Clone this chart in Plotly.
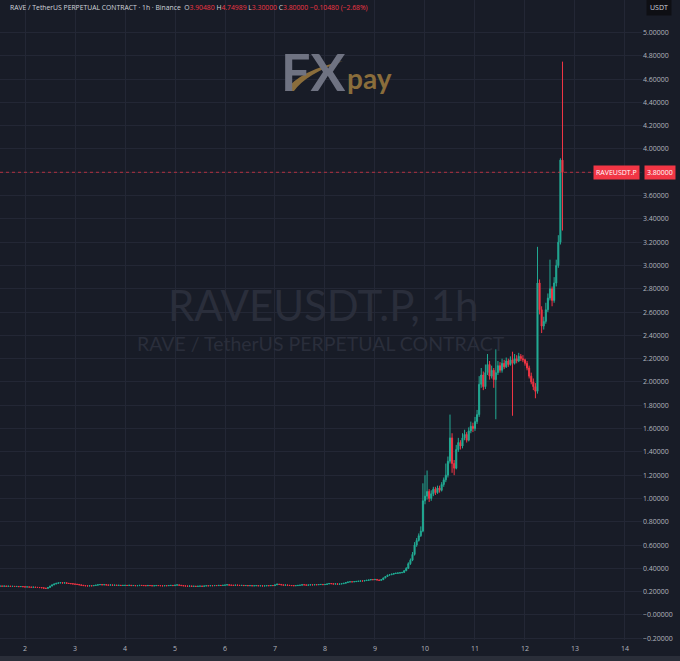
import pandas as pd
import plotly.graph_objects as go

# hourly candles, first one at day 1 12:00
start = "2025-12-01 12:00"
first_open = 0.247

close = [
    0.248, 0.247, 0.248, 0.246, 0.247, 0.245, 0.246, 0.244, 0.245, 0.243, 0.244, 0.242,
    0.240, 0.241, 0.239, 0.238, 0.239, 0.237, 0.236, 0.235, 0.233, 0.230, 0.228, 0.236, 0.248, 0.258, 0.266, 0.272, 0.275, 0.277, 0.274, 0.276, 0.272, 0.270, 0.268, 0.266,
    0.264, 0.262, 0.258, 0.255, 0.252, 0.250, 0.249, 0.251, 0.250, 0.253, 0.256, 0.259, 0.261, 0.258, 0.260, 0.257, 0.256, 0.258, 0.255, 0.256, 0.254, 0.255, 0.253, 0.254,
    0.254, 0.253, 0.255, 0.252, 0.253, 0.251, 0.252, 0.254, 0.253, 0.252, 0.251, 0.253, 0.252, 0.250, 0.251, 0.253, 0.252, 0.251, 0.250, 0.252, 0.251, 0.253, 0.254, 0.252,
    0.256, 0.258, 0.255, 0.252, 0.250, 0.248, 0.247, 0.249, 0.246, 0.247, 0.245, 0.247, 0.248, 0.246, 0.249, 0.251, 0.250, 0.252, 0.251, 0.253, 0.252, 0.254, 0.253, 0.255,
    0.257, 0.259, 0.256, 0.255, 0.254, 0.256, 0.255, 0.253, 0.254, 0.252, 0.253, 0.251, 0.252, 0.250, 0.251, 0.252, 0.250, 0.251, 0.249, 0.250, 0.252, 0.251, 0.253, 0.252,
    0.258, 0.264, 0.262, 0.258, 0.256, 0.257, 0.255, 0.253, 0.252, 0.251, 0.252, 0.254, 0.256, 0.259, 0.258, 0.256, 0.257, 0.259, 0.258, 0.260, 0.259, 0.261, 0.262, 0.260,
    0.262, 0.266, 0.270, 0.268, 0.265, 0.267, 0.264, 0.266, 0.268, 0.272, 0.278, 0.283, 0.285, 0.284, 0.286, 0.288, 0.290, 0.292, 0.291, 0.295, 0.298, 0.300, 0.304, 0.302,
    0.305, 0.300, 0.297, 0.303, 0.318, 0.330, 0.342, 0.345, 0.350, 0.356, 0.358, 0.360, 0.362, 0.365, 0.380, 0.400, 0.440, 0.470, 0.520, 0.600, 0.640, 0.680, 0.720, 0.980,
    1.020, 1.060, 1.000, 1.040, 1.080, 1.050, 1.090, 1.070, 1.120, 1.160, 1.200, 1.320, 1.520, 1.300, 1.260, 1.420, 1.480, 1.450, 1.520, 1.550, 1.500, 1.580, 1.620, 1.600,
    1.660, 1.720, 1.980, 2.060, 1.960, 2.080, 2.150, 2.050, 2.100, 2.020, 2.080, 2.140, 2.100, 2.160, 2.130, 2.180, 2.150, 2.190, 2.160, 2.200, 2.180, 2.220, 2.200, 2.190,
    2.160, 2.120, 2.050, 2.000, 1.960, 1.920, 2.850, 2.620, 2.480, 2.520, 2.620, 2.720, 2.800, 2.700, 2.850, 3.000, 3.200, 3.9048, 3.800,
]

high = [
    0.250, 0.249, 0.249, 0.249, 0.248, 0.248, 0.247, 0.247, 0.246, 0.246, 0.245, 0.245,
    0.243, 0.242, 0.242, 0.240, 0.240, 0.240, 0.238, 0.237, 0.236, 0.234, 0.231, 0.238, 0.250, 0.260, 0.268, 0.274, 0.278, 0.280, 0.278, 0.278, 0.277, 0.273, 0.271, 0.269,
    0.267, 0.266, 0.263, 0.259, 0.256, 0.253, 0.251, 0.252, 0.252, 0.254, 0.257, 0.260, 0.263, 0.262, 0.261, 0.261, 0.258, 0.259, 0.259, 0.257, 0.257, 0.256, 0.256, 0.255,
    0.256, 0.255, 0.256, 0.256, 0.254, 0.254, 0.253, 0.255, 0.255, 0.254, 0.253, 0.254, 0.254, 0.253, 0.252, 0.254, 0.254, 0.253, 0.252, 0.253, 0.253, 0.254, 0.255, 0.255,
    0.257, 0.261, 0.259, 0.256, 0.253, 0.251, 0.249, 0.250, 0.250, 0.248, 0.248, 0.248, 0.249, 0.249, 0.250, 0.252, 0.252, 0.253, 0.253, 0.254, 0.254, 0.255, 0.255, 0.256,
    0.258, 0.262, 0.260, 0.257, 0.256, 0.257, 0.257, 0.256, 0.255, 0.255, 0.254, 0.254, 0.253, 0.253, 0.252, 0.253, 0.253, 0.252, 0.252, 0.251, 0.253, 0.253, 0.254, 0.254,
    0.259, 0.268, 0.265, 0.263, 0.259, 0.258, 0.258, 0.256, 0.254, 0.253, 0.253, 0.255, 0.257, 0.261, 0.260, 0.259, 0.258, 0.260, 0.260, 0.261, 0.261, 0.262, 0.264, 0.263,
    0.263, 0.268, 0.273, 0.271, 0.269, 0.268, 0.268, 0.267, 0.269, 0.274, 0.280, 0.285, 0.287, 0.286, 0.288, 0.290, 0.292, 0.294, 0.293, 0.297, 0.300, 0.302, 0.307, 0.306,
    0.308, 0.307, 0.302, 0.305, 0.320, 0.334, 0.345, 0.350, 0.354, 0.360, 0.362, 0.364, 0.366, 0.370, 0.386, 0.410, 0.452, 0.485, 0.540, 0.625, 0.660, 0.700, 0.760, 1.130,
    1.200, 1.240, 1.080, 1.070, 1.100, 1.100, 1.110, 1.110, 1.140, 1.180, 1.300, 1.360, 1.720, 1.560, 1.330, 1.460, 1.520, 1.500, 1.560, 1.590, 1.570, 1.610, 1.660, 1.650,
    1.700, 1.760, 2.050, 2.120, 2.090, 2.150, 2.240, 2.180, 2.140, 2.120, 2.280, 2.180, 2.170, 2.200, 2.190, 2.210, 2.200, 2.220, 2.260, 2.240, 2.230, 2.250, 2.240, 2.230,
    2.200, 2.180, 2.140, 2.080, 2.030, 1.990, 3.160, 2.880, 2.650, 2.560, 2.680, 2.760, 3.050, 2.820, 2.900, 3.050, 3.260, 3.920, 4.74989,
]

low = [
    0.246, 0.246, 0.246, 0.245, 0.245, 0.244, 0.244, 0.243, 0.243, 0.242, 0.242, 0.241,
    0.239, 0.239, 0.238, 0.237, 0.237, 0.236, 0.235, 0.234, 0.232, 0.229, 0.224, 0.226, 0.235, 0.246, 0.256, 0.264, 0.270, 0.273, 0.272, 0.273, 0.271, 0.268, 0.266, 0.264,
    0.263, 0.261, 0.257, 0.254, 0.251, 0.249, 0.248, 0.248, 0.249, 0.249, 0.252, 0.255, 0.258, 0.257, 0.257, 0.256, 0.255, 0.255, 0.254, 0.254, 0.253, 0.253, 0.252, 0.252,
    0.253, 0.252, 0.252, 0.251, 0.251, 0.250, 0.250, 0.251, 0.252, 0.251, 0.250, 0.250, 0.251, 0.249, 0.249, 0.250, 0.251, 0.250, 0.249, 0.249, 0.250, 0.250, 0.252, 0.251,
    0.251, 0.255, 0.254, 0.251, 0.249, 0.247, 0.246, 0.246, 0.245, 0.245, 0.244, 0.244, 0.246, 0.245, 0.245, 0.248, 0.249, 0.249, 0.250, 0.250, 0.251, 0.251, 0.252, 0.252,
    0.254, 0.256, 0.255, 0.254, 0.253, 0.253, 0.254, 0.252, 0.252, 0.251, 0.251, 0.250, 0.250, 0.249, 0.249, 0.250, 0.249, 0.249, 0.248, 0.248, 0.249, 0.250, 0.250, 0.251,
    0.251, 0.257, 0.261, 0.257, 0.255, 0.255, 0.254, 0.252, 0.251, 0.250, 0.250, 0.251, 0.253, 0.255, 0.257, 0.255, 0.255, 0.256, 0.257, 0.257, 0.258, 0.258, 0.260, 0.259,
    0.259, 0.261, 0.265, 0.267, 0.264, 0.264, 0.263, 0.263, 0.265, 0.267, 0.271, 0.277, 0.282, 0.282, 0.283, 0.285, 0.287, 0.289, 0.290, 0.290, 0.294, 0.297, 0.299, 0.301,
    0.300, 0.298, 0.294, 0.296, 0.301, 0.315, 0.328, 0.339, 0.343, 0.348, 0.353, 0.355, 0.357, 0.359, 0.362, 0.376, 0.395, 0.430, 0.462, 0.510, 0.585, 0.630, 0.670, 0.710,
    0.950, 0.990, 0.970, 0.980, 1.020, 1.030, 1.040, 1.050, 1.060, 1.100, 1.140, 1.180, 1.300, 1.220, 1.200, 1.250, 1.400, 1.420, 1.430, 1.500, 1.480, 1.490, 1.560, 1.570,
    1.580, 1.640, 1.700, 1.950, 1.930, 1.940, 2.060, 2.020, 2.030, 1.950, 1.680, 2.060, 2.080, 2.080, 2.110, 2.120, 2.130, 2.140, 1.710, 2.150, 2.160, 2.170, 2.180, 2.170,
    2.140, 2.100, 2.030, 1.980, 1.930, 1.860, 1.900, 2.580, 2.420, 2.450, 2.500, 2.600, 2.700, 2.650, 2.680, 2.820, 2.980, 3.180, 3.300,
]

# 3.8 is covered by the last-price box, so its tick label stays blank
price_ticks = [-0.2, 0.0, 0.2, 0.4, 0.6, 0.8, 1.0, 1.2, 1.4, 1.6, 1.8, 2.0, 2.2, 2.4, 2.6,
               2.8, 3.0, 3.2, 3.4, 3.6, 3.8, 4.0, 4.2, 4.4, 4.6, 4.8, 5.0]
price_labels = ["−0.20000", "−0.00000", "0.20000", "0.40000", "0.60000", "0.80000",
                "1.00000", "1.20000", "1.40000", "1.60000", "1.80000", "2.00000",
                "2.20000", "2.40000", "2.60000", "2.80000", "3.00000", "3.20000",
                "3.40000", "3.60000", "", "4.00000", "4.20000", "4.40000",
                "4.60000", "4.80000", "5.00000"]
day_ticks = ["2025-12-%02d" % d for d in range(2, 15)]
day_labels = [str(d) for d in range(2, 15)]

BG = "#181c27"
GRID = "#232735"
UP = "#22ab94"
DOWN = "#f23645"
TXT = "#b2b5be"

W, H = 680, 661
PW, PH = 642, 640  # plot area in px


def px(x, y):
    # pixel -> paper coords
    return x / PW, 1 - y / PH


def note(x, y, text, **kw):
    ax, ay = px(x, y)
    kw.setdefault("xanchor", "center")
    kw.setdefault("yanchor", "middle")
    fig.add_annotation(x=ax, y=ay, xref="paper", yref="paper", text=text,
                       showarrow=False, **kw)


opens = [first_open] + close[:-1]
times = pd.date_range(start, periods=len(close), freq="h")

fig = go.Figure(
    go.Candlestick(
        x=times, open=opens, high=high, low=low, close=close,
        increasing=dict(line=dict(color=UP, width=1), fillcolor=UP),
        decreasing=dict(line=dict(color=DOWN, width=1), fillcolor=DOWN),
        hoverinfo="skip",
    )
)

# watermark
note(323, 305, "RAVEUSDT.P, 1h", font=dict(family="Lato", size=42, color="#2a2e3b"))
note(321, 343, "RAVE / TetherUS PERPETUAL CONTRACT",
     font=dict(family="Lato", size=19.5, color="#2a2e3b"))

# FXpay logo
pts = [(285, 91), (300, 70), (343, 61), (306, 74), (294, 91)]
path = "M %f,%f Q %f,%f %f,%f Q %f,%f %f,%f Z" % (
    *px(*pts[0]), *px(*pts[1]), *px(*pts[2]), *px(*pts[3]), *px(*pts[4]))
note(313, 71, "<b>FX</b>", font=dict(family="Lato", size=52, color="#6f7382"))
fig.add_shape(type="path", path=path, xref="paper", yref="paper",
              fillcolor="#8a6d3b", line=dict(width=0))
note(370, 78, "<b>pay</b>", font=dict(family="Lato", size=28, color="#8a6d3b"))

# last price line and labels
last_o, last_h, last_l, last_c = opens[-1], high[-1], low[-1], close[-1]
fig.add_shape(type="line", xref="paper", x0=0, x1=1, yref="y", y0=last_c, y1=last_c,
              line=dict(color="rgba(242,54,69,0.7)", width=1, dash="dot"))
fig.add_annotation(x=640 / PW, y=last_c, xref="paper", yref="y", xanchor="right",
                   yanchor="middle", text="RAVEUSDT.P", showarrow=False,
                   bgcolor=DOWN, borderpad=2, font=dict(size=7, color="white"))
fig.add_annotation(x=644 / PW, y=last_c, xref="paper", yref="y", xanchor="left",
                   yanchor="middle", text="%.5f" % last_c, showarrow=False,
                   bgcolor=DOWN, borderpad=2, font=dict(size=7, color="white"))

# header
chg = last_c - last_o
pct = chg / last_o * 100
red = lambda s: '<span style="color:%s">%s</span>' % (DOWN, s)
header = ("RAVE / TetherUS PERPETUAL CONTRACT · 1h · Binance  "
          "O" + red("%.5f" % last_o) + " H" + red("%.5f" % last_h)
          + " L" + red("%.5f" % last_l) + " C" + red("%.5f" % last_c)
          + " " + red("−%.5f (−%.2f%%)" % (abs(chg), abs(pct))))
note(8, 8, header, xanchor="left", font=dict(size=6.8, color="#d1d4dc"))

# currency box
note(659, 7, "USDT", bgcolor="#0e0f14", borderpad=3, font=dict(size=7, color="#d1d4dc"))

# bottom strip
fig.add_shape(type="rect", xref="paper", yref="paper", x0=-0.01, x1=W / PW,
              y0=1 - 656 / PH, y1=1 - 662 / PH, fillcolor="#2a2e39", line=dict(width=0))

fig.update_layout(
    width=W, height=H,
    margin=dict(l=0, r=W - PW, t=0, b=H - PH),
    paper_bgcolor=BG, plot_bgcolor=BG,
    font=dict(family="Open Sans", color=TXT, size=7),
    showlegend=False,
    xaxis=dict(
        type="date", range=["2025-12-01 12:00", "2025-12-14 08:10"],
        rangeslider=dict(visible=False),
        tickvals=day_ticks, ticktext=day_labels, tickfont=dict(size=7, color=TXT),
        ticklabelstandoff=3,
        showgrid=True, gridcolor=GRID, gridwidth=1, zeroline=False, showline=False,
    ),
    yaxis=dict(
        side="right", range=[-0.215, 5.279],
        tickvals=price_ticks, ticktext=price_labels, tickfont=dict(size=7, color=TXT),
        showgrid=True, gridcolor=GRID, gridwidth=1, zeroline=False, showline=False,
    ),
)

fig.write_html("out.html", config={"displayModeBar": False},
               post_script="document.body.style.margin='0';")
